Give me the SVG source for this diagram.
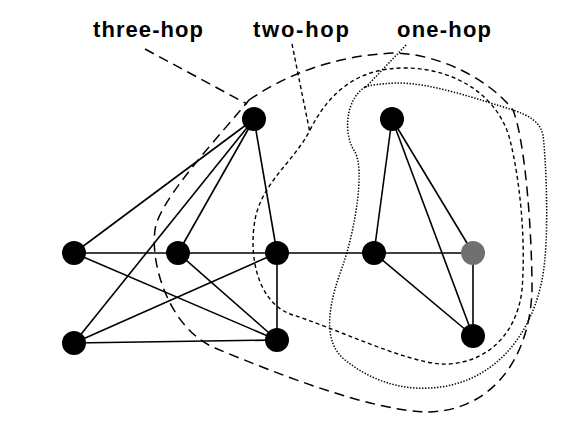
<svg xmlns="http://www.w3.org/2000/svg" width="564" height="439" viewBox="0 0 564 439">
<style>
.edge{stroke:#000;stroke-width:1.6;fill:none}
.node{fill:#000}
.gray{fill:#707070}
.h3{stroke:#000;stroke-width:1.5;fill:none;stroke-dasharray:10 6}
.h2{stroke:#000;stroke-width:1.4;fill:none;stroke-dasharray:4 3}
.h1{stroke:#000;stroke-width:1.5;fill:none;stroke-dasharray:1.4 1.6}
.lbl{font-family:"Liberation Sans",Arial,sans-serif;font-weight:bold;font-size:22px;fill:#000}
</style>
<rect width="564" height="439" fill="#fff"/>
<g id="connectors">
<line class="edge" x1="254" y1="119" x2="74" y2="253"/>
<line class="edge" x1="254" y1="119" x2="178" y2="253"/>
<line class="edge" x1="254" y1="119" x2="74" y2="343"/>
<line class="edge" x1="254" y1="119" x2="277" y2="253"/>
<line class="edge" x1="74" y1="253" x2="473" y2="253"/>
<line class="edge" x1="74" y1="253" x2="277" y2="340"/>
<line class="edge" x1="178" y1="253" x2="277" y2="340"/>
<line class="edge" x1="277" y1="253" x2="74" y2="343"/>
<line class="edge" x1="277" y1="253" x2="277" y2="340"/>
<line class="edge" x1="74" y1="343" x2="277" y2="340"/>
<line class="edge" x1="392" y1="119" x2="374" y2="253"/>
<line class="edge" x1="392" y1="119" x2="473" y2="253"/>
<line class="edge" x1="392" y1="119" x2="473" y2="336"/>
<line class="edge" x1="374" y1="253" x2="473" y2="336"/>
<line class="edge" x1="473" y1="253" x2="473" y2="336"/>
</g>
<g id="three-hop">
<path class="h3" d="M249,100 C290,72 340,55 395,53 C440,54 490,80 513,110 C525,140 532,230 532,290 C530,360 490,412 426,412 C370,410 280,375 215,348 C170,329 150,265 155,230 C158,200 225,130 249,100 Z"/>
<line class="h3" x1="145" y1="49" x2="247" y2="104"/>
<text class="lbl" x="93" y="37" textLength="110" lengthAdjust="spacing">three-hop</text>
</g>
<g id="two-hop">
<path class="h2" d="M310,130 C330,90 360,68 404,68 C460,68 500,100 510,140 C520,180 526,240 522,290 C516,340 480,366 440,364 C400,360 340,330 290,314 C255,300 248,250 256,215 C265,180 295,160 310,130 Z"/>
<line class="h2" x1="292" y1="44" x2="310" y2="133"/>
<text class="lbl" x="253" y="37" textLength="96" lengthAdjust="spacing">two-hop</text>
</g>
<g id="one-hop">
<path class="h1" d="M365,87 C345,100 343,135 355,152 C365,170 355,230 343,265 C330,300 320,340 345,360 C370,380 400,390 430,388 C490,385 530,340 542,280 C550,240 546,160 543,135 C540,122 530,116 513,110 C480,100 430,82 395,83 C380,84 370,85 365,87 Z"/>
<line class="h1" x1="406" y1="45" x2="365" y2="88"/>
<text class="lbl" x="397" y="37" textLength="94" lengthAdjust="spacing">one-hop</text>
</g>
<g id="n1"><circle class="node" cx="254" cy="119" r="12"/></g>
<g id="n2"><circle class="node" cx="392" cy="119" r="12"/></g>
<g id="n3"><circle class="node" cx="74" cy="253" r="12"/></g>
<g id="n4"><circle class="node" cx="178" cy="253" r="12"/></g>
<g id="n5"><circle class="node" cx="277" cy="253" r="12"/></g>
<g id="n6"><circle class="node" cx="374" cy="253" r="12"/></g>
<g id="n7"><circle class="gray" cx="473" cy="253" r="12"/></g>
<g id="n8"><circle class="node" cx="74" cy="343" r="12"/></g>
<g id="n9"><circle class="node" cx="277" cy="340" r="12"/></g>
<g id="n10"><circle class="node" cx="473" cy="336" r="12"/></g>
</svg>
